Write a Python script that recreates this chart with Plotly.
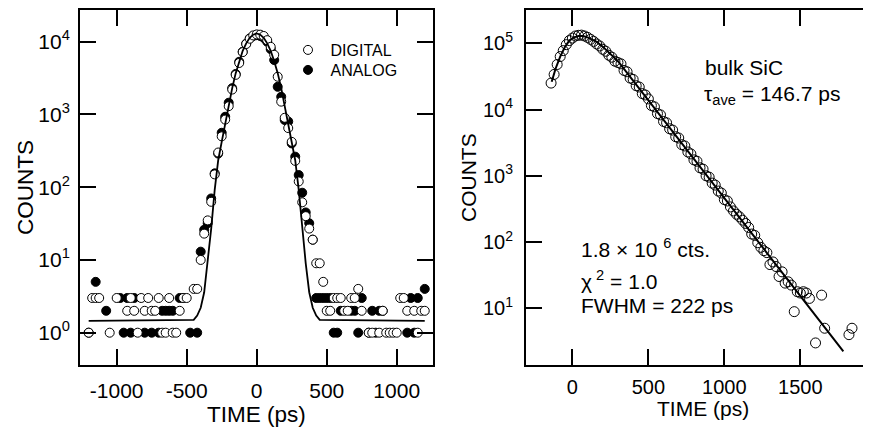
import plotly.graph_objects as go

# ---------------- Left panel data (resolution function) ----------------
digital_time = [-1200, -1175, -1150, -1125, -1050, -1000, -925, -900, -875, -850, -825, -800, -775,
                -750, -725, -700, -675, -650, -625, -600, -575, -550, -525, -500, -450, -425,
                -400, -375, -350, -325, -300, -275, -250, -225, -200, -175, -150, -125, -100, -75,
                -50, -25, 0, 25, 50, 75, 100, 125, 150, 175, 200, 225, 250, 275, 300, 325, 350,
                375, 400, 425, 450, 475,
                500, 525, 550, 575, 600, 625, 650, 675, 700, 725, 750, 800, 825, 875, 900, 925,
                950, 975, 1000, 1025, 1050, 1075, 1125, 1150, 1175, 1200]
digital_counts = [1, 3, 3, 3, 1, 3, 2, 3, 2, 1, 3, 2, 3, 2, 2, 3, 1, 1, 3, 1, 1, 2, 3, 3, 4, 4,
                  10, 23, 35, 63, 150, 300, 500, 850, 1300, 2200, 3500, 5100, 7200, 9300, 11000,
                  12200, 12600, 12500, 12000, 10500, 8500, 6600, 3300, 1500, 900, 650, 420, 230,
                  120, 62, 40, 27, 19, 9, 9, 5,
                  2, 2, 3, 3, 3, 2, 2, 3, 3, 4, 2, 1, 1, 1, 2, 1, 1, 1, 1, 3, 3, 2, 2, 1, 2, 2]

analog_time = [-1200, -1150, -1075, -975, -950, -925, -900, -875, -800, -750, -700, -675, -650,
               -625, -600, -550, -525, -475, -425,
               -400, -375, -350, -325, -300, -275, -250, -225, -200, -175, -150, -125, -100, -75,
               -50, -25, 0, 25, 50, 75, 100, 125, 150, 175, 200, 225, 250, 275, 300, 325, 350,
               375, 400,
               425, 450, 475, 500, 525, 550, 575, 600, 675, 700, 725, 750, 800, 825, 850, 875,
               900, 1075, 1100, 1125, 1150, 1200]
analog_counts = [1, 5, 2, 3, 1, 3, 1, 3, 1, 1, 1, 2, 2, 2, 2, 3, 3, 1, 1,
                 13, 26, 32, 70, 155, 290, 560, 930, 1450, 2300, 3600, 5300, 7300, 9400, 11100,
                 12000, 12300, 12000, 11300, 10000, 7900, 5600, 2400, 1750, 840, 800, 400, 263,
                 147, 84, 45, 32, 19,
                 3, 3, 3, 3, 3, 1, 1, 2, 2, 2, 1, 3, 1, 2, 1, 2, 2, 1, 3, 1, 3, 4]

fit_left_time = [-1200, -450, -425, -400, -375, -350, -325, -300, -275, -250, -225, -200, -175,
                 -150, -125, -100, -75, -50, -25, 0, 25, 50, 75, 100, 125, 150, 175, 200, 225,
                 250, 275, 300, 325, 350, 375, 400, 425, 450, 1200]
fit_left_counts = [1.45, 1.5, 1.72, 2.2, 3.6, 9, 27, 92, 235, 420, 750, 1300, 2300, 3700, 5400,
                   7500, 9500, 11300, 12500, 13000, 12500, 11300, 9500, 7500, 5400, 3700, 2300,
                   1300, 750, 420, 235, 92, 27, 9, 3.6, 2.2, 1.72, 1.5, 1.45]

# ---------------- Right panel data (bulk SiC lifetime spectrum) ----------------
sic_time = [-140, -120, -100, -80, -60, -40, -20, 0, 20, 40, 60, 80, 100, 120, 140, 160, 180,
            200, 220, 240, 260, 280, 300, 320, 340, 360, 380, 400, 420, 440, 460, 480, 500,
            520, 540, 560, 580, 600, 620, 640, 660, 680, 700, 720, 740, 760, 780, 800, 820,
            840, 860, 880, 900, 920, 940, 960, 980, 1000, 1020, 1040, 1060, 1080, 1100, 1120,
            1140, 1160, 1180, 1200, 1220, 1240, 1260, 1280, 1300, 1320, 1340, 1360, 1380,
            1400, 1420, 1440, 1460, 1480, 1500, 1520, 1540, 1560, 1600, 1640, 1660, 1820, 1840]
sic_counts = [25100, 33900, 47900, 63100, 77600, 95500, 110000, 120000, 129000, 132000, 133000,
              129000, 123000, 115000, 107000, 97700, 91200, 81300, 75900, 66100, 61700, 53700,
              51300, 49000, 38900, 37200, 29900, 28500, 22900, 21900, 17400, 16600, 14500,
              11500, 11000, 8710, 8320, 6610, 6310, 5130, 4900, 3890, 3720, 2950, 2820, 2290,
              2140, 1740, 1660, 1320, 1260, 1000, 955, 776, 724, 589, 550, 437, 417, 339, 295,
              263, 240, 214, 191, 166, 132, 126, 97.7, 83.2, 74.1, 69.2, 45.7, 50.1, 42.7,
              30.2, 35.5, 24.0, 25.1, 22.4, 8.9, 17.8, 17.0, 17.8, 17.0, 14.1, 3.0, 15.8, 5.0,
              4.0, 5.0]

fit_sic_time = [-136, -110, -80, -50, -20, 10, 40, 70, 100, 130, 160, 200, 250, 300, 1783]
fit_sic_counts = [26300, 41700, 63100, 87100, 110000, 123000, 129000, 129000, 123000, 115000,
                  105000, 89100, 69200, 53700, 2.24]

# ---------------- Tick labels ----------------
left_x_ticks = [-1000, -500, 0, 500, 1000]
left_x_labels = ["-1000", "-500", "0", "500", "1000"]
left_y_ticks = [1, 10, 100, 1000, 10000]
left_y_labels = ["10<sup>0</sup>", "10<sup>1</sup>", "10<sup>2</sup>", "10<sup>3</sup>", "10<sup>4</sup>"]
right_x_ticks = [0, 500, 1000, 1500]
right_x_labels = ["0", "500", "1000", "1500"]
right_y_ticks = [10, 100, 1000, 10000, 100000]
right_y_labels = ["10<sup>1</sup>", "10<sup>2</sup>", "10<sup>3</sup>", "10<sup>4</sup>", "10<sup>5</sup>"]

FONT = "Liberation Sans, Arial, Helvetica, sans-serif"
OFF = 8                      # default page margin of the html body
W, H = 871 - OFF, 429 - OFF  # figure size so that page = 871 x 429


def px(sx):
    """screen x (px) -> paper x"""
    return (sx - OFF) / W


def py(sy):
    """screen y (px, from top) -> paper y"""
    return 1 - (sy - OFF) / H


fig = go.Figure()

fig.add_trace(go.Scatter(x=analog_time, y=analog_counts, mode="markers", name="ANALOG",
                         legend="legend2",
                         marker=dict(symbol="circle", size=9, color="black",
                                     line=dict(color="black", width=1)),
                         xaxis="x", yaxis="y"))
fig.add_trace(go.Scatter(x=digital_time, y=digital_counts, mode="markers", name="DIGITAL",
                         legend="legend",
                         marker=dict(symbol="circle", size=9, color="white",
                                     line=dict(color="black", width=1)),
                         xaxis="x", yaxis="y"))
fig.add_trace(go.Scatter(x=fit_left_time, y=fit_left_counts, mode="lines", showlegend=False,
                         line=dict(color="black", width=1.8), xaxis="x", yaxis="y"))

fig.add_trace(go.Scatter(x=sic_time, y=sic_counts, mode="markers", showlegend=False,
                         marker=dict(symbol="circle", size=10, color="rgba(255,255,255,0)",
                                     line=dict(color="black", width=1)),
                         xaxis="x2", yaxis="y2"))
fig.add_trace(go.Scatter(x=fit_sic_time, y=fit_sic_counts, mode="lines", showlegend=False,
                         line=dict(color="black", width=2), xaxis="x2", yaxis="y2"))

common = dict(showgrid=False, zeroline=False, showline=True, linecolor="black", linewidth=2,
              ticks="inside", ticklen=16, tickwidth=2, tickcolor="black", automargin=False,
              tickfont=dict(family=FONT, size=21, color="black"), tickmode="array")
right_font = dict(family=FONT, size=20, color="black")
legend_style = dict(xanchor="left", yanchor="top", bgcolor="rgba(0,0,0,0)", borderwidth=0,
                    itemwidth=35, font=dict(family=FONT, size=16, color="black"))

y_dom = [py(365), py(10)]

fig.update_layout(
    width=W, height=H,
    margin=dict(l=0, r=0, t=0, b=0, autoexpand=False),
    paper_bgcolor="white", plot_bgcolor="white",
    font=dict(family=FONT, color="black"),
    xaxis=dict(domain=[px(80), px(433)], range=[-1262, 1259], anchor="y", mirror="ticks",
               tickvals=left_x_ticks, ticktext=left_x_labels, ticklabelstandoff=6, **common),
    yaxis=dict(domain=y_dom, type="log", range=[-0.444, 4.436], anchor="x", mirror="ticks",
               tickvals=left_y_ticks, ticktext=left_y_labels, ticklabelstandoff=4, **common),
    xaxis2=dict(domain=[px(526), 1.0], range=[-305, 1965], anchor="y2", mirror="ticks",
                tickvals=right_x_ticks, ticktext=right_x_labels, ticklabelstandoff=3,
                **{**common, "tickfont": right_font}),
    yaxis2=dict(domain=y_dom, type="log", range=[0.144, 5.503], anchor="x2", mirror=False,
                tickvals=right_y_ticks, ticktext=right_y_labels, ticklabelstandoff=7,
                **{**common, "tickfont": right_font}),
    yaxis3=dict(domain=y_dom, type="log", range=[0.144, 5.503], overlaying="y2", side="right",
                anchor="free", position=1.0, showline=False, showgrid=False, zeroline=False,
                automargin=False,
                ticks="inside", ticklen=6, tickwidth=2, tickcolor="black",
                tickmode="array", tickvals=right_y_ticks, showticklabels=False),
    legend=dict(x=px(285.5), y=py(33), **legend_style),
    legend2=dict(x=px(285.5), y=py(53), **legend_style),
    showlegend=True,
)

ann_font = dict(family=FONT, size=21, color="black")
big_font = dict(family=FONT, size=22.5, color="black")
annotations = [
    dict(text="COUNTS", x=px(25), y=py(188), textangle=-90, font=big_font),
    dict(text="TIME (ps)", x=px(256), y=py(414), font=big_font),
    dict(text="COUNTS", x=px(468), y=py(177), textangle=-90, font=ann_font),
    dict(text="TIME (ps)", x=px(703), y=py(408), font=ann_font),
    dict(text="bulk SiC", x=px(703), y=py(67), xanchor="left", font=ann_font),
    dict(text="τ<sub>ave</sub> = 146.7 ps", x=px(702), y=py(95), xanchor="left", font=ann_font),
    dict(text="1.8 × 10 <sup>6</sup> cts.", x=px(579), y=py(248), xanchor="left", font=ann_font),
    dict(text="χ<sup> 2</sup> = 1.0", x=px(579), y=py(280), xanchor="left", font=ann_font),
    dict(text="FWHM = 222 ps", x=px(579), y=py(305), xanchor="left", font=ann_font),
]
for a in annotations:
    a.setdefault("xanchor", "center")
    a.update(xref="paper", yref="paper", yanchor="middle", showarrow=False)
fig.update_layout(annotations=annotations)

fig.write_html("out.html")
